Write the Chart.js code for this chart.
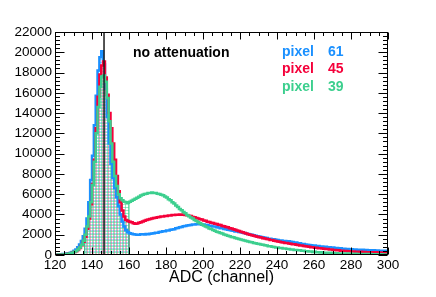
<!DOCTYPE html>
<html>
<head>
<meta charset="utf-8">
<script src="https://cdn.jsdelivr.net/npm/chart.js@4/dist/chart.umd.min.js"></script>
<style>
  html, body { margin: 0; padding: 0; background: #fff; }
  canvas { display: block; }
</style>
</head>
<body>
<canvas id="adc" width="436" height="297"></canvas>
<script>
// ADC spectra, one bin per channel, starting at channel 120
const firstChannel = 120;
const lastChannel = 300;
const xTicks = [120, 140, 160, 180, 200, 220, 240, 260, 280, 300];
const yTicks = [0, 2000, 4000, 6000, 8000, 10000, 12000, 14000, 16000, 18000, 20000, 22000];

const pixel61 = [
  20, 30, 30, 50, 60, 90, 110, 140, 170, 230,
  300, 410, 540, 760, 1040, 1380, 1850, 2600, 3600, 5200,
  7400, 9800, 12800, 15700, 18200, 19500, 20100, 18800, 16400, 13600,
  11000, 9000, 7600, 6600, 5700, 4800, 4000, 3300, 2800, 2450,
  2250, 2150, 2100, 2040, 2020, 1990, 2010, 2040, 2050, 2030,
  2070, 2040, 2090, 2120, 2150, 2190, 2200, 2260, 2290, 2340,
  2350, 2410, 2420, 2480, 2520, 2550, 2630, 2670, 2730, 2770,
  2840, 2860, 2910, 2940, 2960, 3000, 3000, 3040, 3030, 3040,
  2990, 3000, 2950, 2950, 2890, 2880, 2810, 2800, 2730, 2710,
  2650, 2630, 2570, 2550, 2490, 2470, 2410, 2390, 2330, 2310,
  2260, 2250, 2190, 2160, 2100, 2080, 2020, 2000, 1940, 1910,
  1850, 1830, 1780, 1760, 1690, 1670, 1610, 1610, 1560, 1550,
  1500, 1490, 1440, 1440, 1390, 1390, 1350, 1350, 1300, 1290,
  1240, 1230, 1170, 1150, 1090, 1080, 1030, 1020, 980, 970,
  930, 930, 890, 890, 850, 850, 810, 810, 770, 770,
  730, 730, 690, 700, 660, 660, 620, 620, 590, 590,
  560, 570, 540, 550, 520, 530, 500, 510, 480, 490,
  460, 470, 440, 460, 430, 440, 420, 430, 400, 410
];

const pixel45 = [
  10, 20, 30, 30, 50, 60, 80, 100, 130, 170,
  220, 290, 380, 500, 690, 950, 1300, 1800, 2600, 3600,
  5000, 7000, 9400, 12500, 15600, 17800, 18700, 19100, 17500, 15800,
  14000, 12500, 11000, 9400, 7800, 6300, 5200, 4400, 3800, 3450,
  3350, 3270, 3220, 3140, 3080, 3110, 3170, 3220, 3310, 3370,
  3450, 3490, 3550, 3590, 3650, 3670, 3730, 3750, 3800, 3800,
  3840, 3850, 3890, 3890, 3940, 3940, 3970, 3970, 4000, 3980,
  3990, 3950, 3930, 3870, 3840, 3760, 3730, 3650, 3610, 3530,
  3490, 3410, 3370, 3290, 3260, 3190, 3160, 3090, 3060, 2980,
  2950, 2870, 2840, 2760, 2730, 2650, 2610, 2530, 2490, 2410,
  2370, 2290, 2250, 2170, 2130, 2050, 2010, 1940, 1910, 1840,
  1810, 1740, 1720, 1650, 1630, 1570, 1550, 1490, 1470, 1410,
  1390, 1330, 1310, 1260, 1240, 1190, 1180, 1130, 1110, 1060,
  1050, 1000, 990, 940, 930, 880, 870, 830, 820, 770,
  770, 720, 720, 670, 670, 630, 620, 580, 580, 540,
  540, 500, 500, 460, 470, 430, 430, 400, 400, 370,
  380, 340, 350, 320, 330, 300, 310, 280, 290, 270,
  280, 250, 270, 240, 260, 230, 250, 220, 240, 210
];

const pixel39 = [
  10, 20, 20, 40, 50, 60, 80, 100, 130, 170,
  220, 300, 400, 540, 740, 1000, 1400, 2000, 2800, 3800,
  5200, 6900, 9200, 12000, 14600, 16600, 17600, 17700, 17100, 15500,
  13200, 11000, 9200, 7800, 6800, 6000, 5600, 5400, 5250, 5200,
  5150, 5260, 5340, 5460, 5540, 5660, 5740, 5860, 5940, 6010,
  6040, 6110, 6120, 6160, 6120, 6110, 6050, 6030, 5950, 5890,
  5770, 5670, 5510, 5390, 5210, 5070, 4890, 4730, 4550, 4410,
  4240, 4110, 3950, 3830, 3690, 3590, 3450, 3350, 3220, 3130,
  3000, 2920, 2800, 2730, 2620, 2560, 2460, 2400, 2300, 2250,
  2160, 2110, 2020, 1980, 1900, 1860, 1780, 1740, 1670, 1640,
  1570, 1540, 1470, 1440, 1370, 1340, 1280, 1250, 1190, 1170,
  1110, 1090, 1030, 1010, 950, 930, 870, 860, 810, 800,
  750, 740, 690, 680, 640, 630, 590, 580, 540, 540,
  500, 500, 460, 460, 420, 420, 380, 380, 340, 340,
  300, 310, 270, 280, 250, 260, 230, 230, 200, 210,
  180, 190, 160, 170, 150, 160, 130, 150, 120, 140,
  110, 130, 100, 120, 90, 110, 80, 100, 80, 90,
  70, 90, 60, 80, 60, 70, 50, 70, 50, 60
];

// hatched window and marker line
const hatchFrom = 136;
const hatchTo = 160;
const markerChannel = 146.5;

const blue = '#1a90ff';
const red = '#f5003a';
const green = '#3ccf8e';
const fontFamily = '"Liberation Sans", Arial, Helvetica, sans-serif';

// histogram bins -> points for a stepped line
function bins(vals) {
  const pts = vals.map((v, i) => ({ x: firstChannel + i, y: v }));
  pts.push({ x: firstChannel + vals.length, y: vals[vals.length - 1] });
  return pts;
}

// only the hatched window, closed down to zero on both ends
function window_(vals, from, to) {
  const pts = [{ x: from, y: 0 }];
  for (let ch = from; ch < to; ch++) pts.push({ x: ch, y: vals[ch - firstChannel] });
  pts.push({ x: to, y: vals[to - 1 - firstChannel] });
  pts.push({ x: to, y: 0 });
  return pts;
}

// small repeating tiles for the ROOT-like hatch styles
const canvas = document.getElementById('adc');
function hatch(color, lines) {
  const t = document.createElement('canvas');
  t.width = 3; t.height = 3;
  const g = t.getContext('2d');
  g.fillStyle = color;
  lines.forEach(([dir, at]) => {
    if (dir === 'v') g.fillRect(at, 0, 1, 3);
    else g.fillRect(0, at, 3, 1);
  });
  return canvas.getContext('2d').createPattern(t, 'repeat');
}

// ROOT style frame: box + ticks pointing inside, marker line, labels
const rootFrame = {
  id: 'rootFrame',
  afterDatasetsDraw(chart) {
    const { ctx, chartArea: a, scales: { x } } = chart;
    const px = x.getPixelForValue(markerChannel);
    ctx.save();
    ctx.strokeStyle = '#1a1a1a';
    ctx.lineWidth = 1.5;
    ctx.beginPath();
    ctx.moveTo(px, a.top);
    ctx.lineTo(px, a.bottom);
    ctx.stroke();
    ctx.restore();
  },
  afterDraw(chart) {
    const { ctx, chartArea: a, scales: { x, y } } = chart;
    const L = Math.round(a.left) + 0.5, R = Math.round(a.right) - 0.5;
    const T = Math.round(a.top) + 0.5, B = Math.round(a.bottom) - 0.5;
    ctx.save();
    ctx.strokeStyle = '#000';
    ctx.lineWidth = 1;
    ctx.strokeRect(L, T, R - L, B - T);
    ctx.beginPath();
    for (let v = firstChannel; v <= lastChannel; v += 5) {
      const p = Math.round(x.getPixelForValue(v)) + 0.5;
      const len = v % 20 === 0 ? 7 : 3.5;
      ctx.moveTo(p, B); ctx.lineTo(p, B - len);
      ctx.moveTo(p, T); ctx.lineTo(p, T + len);
    }
    for (let v = 0; v <= 22000; v += 400) {
      const p = Math.round(y.getPixelForValue(v)) + 0.5;
      const len = v % 2000 === 0 ? 9 : 4.5;
      ctx.moveTo(L, p); ctx.lineTo(L + len, p);
      ctx.moveTo(R, p); ctx.lineTo(R - len, p);
    }
    ctx.stroke();

    ctx.font = 'bold 14px ' + fontFamily;
    ctx.textBaseline = 'middle';
    ctx.textAlign = 'left';
    ctx.fillStyle = '#000';
    ctx.fillText('no attenuation', 133, 53);
    const legend = [['pixel', '61', blue, 52], ['pixel', '45', red, 69], ['pixel', '39', green, 87]];
    legend.forEach(([word, num, col, yy]) => {
      ctx.fillStyle = col;
      ctx.fillText(word, 282, yy);
      ctx.fillText(num, 328, yy);
    });
    ctx.restore();
  }
};

function line(label, vals, color, order) {
  return {
    label: label,
    data: bins(vals),
    borderColor: color,
    borderWidth: 2.5,
    stepped: 'after',
    pointRadius: 0,
    fill: false,
    order: order
  };
}

function hatched(vals, color, pattern, order) {
  return {
    data: window_(vals, hatchFrom, hatchTo),
    borderColor: color,
    borderWidth: 1,
    backgroundColor: pattern,
    stepped: 'after',
    pointRadius: 0,
    fill: 'origin',
    order: order
  };
}

new Chart(canvas.getContext('2d'), {
  type: 'line',
  data: {
    datasets: [
      hatched(pixel61, blue, hatch('rgba(26,144,255,0.35)', [['h', 2]]), 6),
      hatched(pixel45, red, hatch('rgba(255,60,110,0.45)', [['v', 0]]), 5),
      hatched(pixel39, green, hatch('rgba(60,207,142,0.5)', [['h', 0], ['v', 2]]), 4),
      line('pixel 61', pixel61, blue, 3),
      line('pixel 45', pixel45, red, 2),
      line('pixel 39', pixel39, green, 1)
    ]
  },
  options: {
    responsive: false,
    devicePixelRatio: 1,
    animation: false,
    layout: { padding: { left: 0, top: 32, right: 48, bottom: 0 } },
    plugins: { legend: { display: false }, tooltip: { enabled: false } },
    scales: {
      x: {
        type: 'linear',
        min: firstChannel,
        max: lastChannel,
        afterBuildTicks: (s) => { s.ticks = xTicks.map(v => ({ value: v })); },
        afterFit: (s) => { s.height = 42; },
        grid: { display: false, drawTicks: false },
        border: { display: false },
        ticks: {
          autoSkip: false, maxRotation: 0, padding: 2,
          color: '#000', font: { family: fontFamily, size: 13.5 },
          callback: v => String(v)
        },
        title: {
          display: true, text: 'ADC (channel)', color: '#000',
          font: { family: fontFamily, size: 16 },
          padding: { top: 0, bottom: 10 }
        }
      },
      y: {
        min: 0,
        max: 22000,
        afterBuildTicks: (s) => { s.ticks = yTicks.map(v => ({ value: v })); },
        afterFit: (s) => { s.width = 55; },
        grid: { display: false, drawTicks: false },
        border: { display: false },
        ticks: {
          autoSkip: false, padding: 3,
          color: '#000', font: { family: fontFamily, size: 13.5 },
          callback: v => String(v)
        }
      }
    }
  },
  plugins: [rootFrame]
});
</script>
</body>
</html>
